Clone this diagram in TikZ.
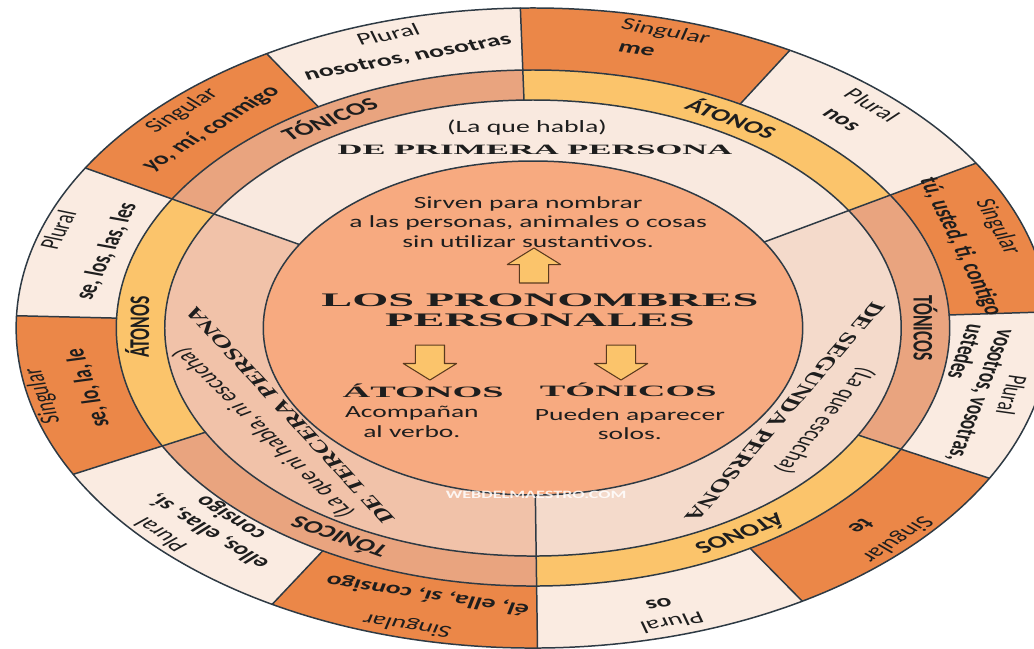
\documentclass[tikz,border=0pt]{standalone}
\usepackage{fontspec}
\setmainfont{Carlito}
\newfontfamily\titlefont[FakeStretch=1.5]{Liberation Serif}
\usetikzlibrary{shapes.arrows}
\definecolor{singcol}{HTML}{EB8748}
\definecolor{plurcol}{HTML}{FAEBE1}
\definecolor{toncol}{HTML}{E9A47F}
\definecolor{atocol}{HTML}{FBC46B}
\definecolor{primcol}{HTML}{F9E9DF}
\definecolor{segcol}{HTML}{F4DACB}
\definecolor{tercol}{HTML}{F1C2A9}
\definecolor{corecol}{HTML}{F7AA80}
\definecolor{linecol}{HTML}{2E3A44}
\definecolor{txtcol}{HTML}{1E1E1E}
\definecolor{arrline}{HTML}{5A3A1E}
\tikzset{
  ringline/.style={draw=linecol,line width=.85pt},
  numlab/.style={text=txtcol,font=\fontsize{9.8}{11}\selectfont},
  pronlab/.style={text=txtcol,font=\bfseries\fontsize{9.8}{11}\selectfont},
  formlab/.style={text=txtcol,font=\bfseries\fontsize{10}{12}\selectfont},
  perstit/.style={text=txtcol,font=\titlefont\bfseries\fontsize{8.1}{10}\selectfont},
  perssub/.style={text=txtcol,font=\fontsize{9.8}{11}\selectfont},
  bodytxt/.style={text=txtcol,align=center,font=\fontsize{9.7}{11}\selectfont},
  maintit/.style={text=txtcol,align=center,font=\titlefont\bfseries\fontsize{10.9}{11.3}\selectfont},
  subtit/.style={text=txtcol,font=\titlefont\bfseries\fontsize{9}{11}\selectfont},
  blockarrow/.style={single arrow,draw=arrline,fill=atocol,line width=.6pt,
    minimum height=.7cm,inner xsep=0pt,inner ysep=.17cm,single arrow head extend=.15cm}
}
\begin{document}
\begin{tikzpicture}[line join=round,line cap=round,x=.02cm,y=.02cm,xscale=1.615,transform shape]
  \useasboundingbox (-330,-320) rectangle (310.2,328);
  % persona ring
  \foreach \a/\b/\c in {31/150/primcol,150/270.5/tercol,270.5/391/segcol}{
    \fill[\c] (\a:167) arc[start angle=\a,end angle=\b,radius=167] -- (\b:228) arc[start angle=\b,end angle=\a,radius=228] -- cycle;
  }
  % tonicos / atonos ring
  \foreach \a/\b/\c in {91.4/150/toncol,150/207.2/atocol,207.2/270.5/toncol,270.5/332/atocol,332/391/toncol,391/451.4/atocol}{
    \fill[\c] (\a:228) arc[start angle=\a,end angle=\b,radius=228] -- (\b:258) arc[start angle=\b,end angle=\a,radius=258] -- cycle;
  }
  % singular / plural ring
  \foreach \a/\b/\c in {91.4/121/plurcol,121/150/singcol,150/177.8/plurcol,177.8/207.2/singcol,207.2/239.7/plurcol,239.7/270.5/singcol,
    270.5/301.4/plurcol,301.4/332/singcol,332/362.9/plurcol,362.9/391/singcol,391/420.2/plurcol,420.2/451.4/singcol}{
    \fill[\c] (\a:258) arc[start angle=\a,end angle=\b,radius=258] -- (\b:320) arc[start angle=\b,end angle=\a,radius=320] -- cycle;
  }
  \fill[corecol] (0,0) circle[radius=167];
  \foreach \r in {167,228,258,320}{
    \draw[ringline] (0,0) circle[radius=\r];
  }
  \foreach \a in {31,150,270.5}{
    \draw[ringline] (\a:167) -- (\a:320);
  }
  \foreach \a in {91.4,207.2,332}{
    \draw[ringline] (\a:228) -- (\a:320);
  }
  \foreach \a in {121,177.8,239.7,301.4,362.9,420.2}{
    \draw[ringline] (\a:258) -- (\a:320);
  }
  % centre
  \node[bodytxt] (desc) at (-3,106) {Sirven para nombrar\\a las personas, animales o cosas\\sin utilizar sustantivos.};
  \node[blockarrow,rotate=90] (upArr) at (0.6,58) {};
  \node[maintit] (title) at (4.3,18) {LOS PRONOMBRES\\PERSONALES};
  \node[blockarrow,rotate=-90] (atoArr) at (-63.8,-30) {};
  \node[blockarrow,rotate=-90] (tonArr) at (54.5,-30) {};
  \node[subtit] (atoTit) at (-68,-63) {ÁTONOS};
  \node[bodytxt] (atoTxt) at (-75,-94) {Acompañan\\al verbo.};
  \node[subtit] (tonTit) at (59,-62) {TÓNICOS};
  \node[bodytxt] (tonTxt) at (60,-96) {Pueden aparecer\\solos.};
  \node[text=white,opacity=.85,font=\bfseries\fontsize{6.4}{7}\selectfont] (mark) at (2,-167) {WEBDELMAESTRO.COM};
  % personas
  \node[perssub] (priSub) at (-3.7,200) {(La que habla)};
  \node[perstit] (priTit) at (1.2,178) {DE PRIMERA PERSONA};
  \node[perstit,rotate=-118.3] (segTit) at (-28.3:177) {DE SEGUNDA PERSONA};
  \node[perssub,rotate=-117.2] (segSub) at (-27.2:203) {(La que escucha)};
  \node[perstit,rotate=120] (terTit) at (210:174) {DE TERCERA PERSONA};
  \node[perssub,rotate=122.1] (terSub) at (212.1:197) {(La que ni habla, ni escucha)};
  % tonicos / atonos
  \node[formlab,rotate=31.1] (priTon) at (121.1:245) {TÓNICOS};
  \node[formlab,rotate=-30.4] (priAto) at (59.6:243.5) {ÁTONOS};
  \node[formlab,rotate=-90] (segTon) at (0:243) {TÓNICOS};
  \node[formlab,rotate=-148.1] (segAto) at (-58.1:244) {ÁTONOS};
  \node[formlab,rotate=150.1] (terTon) at (240.1:242) {TÓNICOS};
  \node[formlab,rotate=89.8] (terAto) at (179.8:245) {ÁTONOS};
  % singular / plural
  \node[numlab,rotate=17] (nosL) at (107:307) {Plural};
  \node[pronlab,rotate=16] (nosV) at (106:281) {nosotros, nosotras};
  \node[numlab,rotate=45] (yoL) at (135:307) {Singular};
  \node[pronlab,rotate=45] (yoV) at (135:282) {yo, mí, conmigo};
  \node[numlab,rotate=-15.5] (meL) at (74.5:307) {Singular};
  \node[pronlab,rotate=-13] (meV) at (77:285) {me};
  \node[numlab,rotate=-43.3] (nosAtL) at (46.7:306) {Plural};
  \node[pronlab,rotate=-42.5] (nosAtV) at (47.5:282) {nos};
  \node[numlab,rotate=-70.6] (tuL) at (19.4:305) {Singular};
  \node[pronlab,rotate=-72.9] (tuV) at (17.1:277) {tú, usted, ti, contigo};
  \node[numlab,rotate=-102.75] (vosL) at (-12.75:304) {Plural};
  \node[pronlab,rotate=-103.6,align=left] (vosV) at (-13.6:276) {vosotros, vosotras,\\ustedes};
  \node[numlab,rotate=-133.2] (teL) at (-43.2:309) {Singular};
  \node[pronlab,rotate=-134.3] (teV) at (-44.3:284) {te};
  \node[numlab,rotate=-163.7] (osL) at (-73.7:307) {Plural};
  \node[pronlab,rotate=-164.2] (osV) at (-74.2:286) {os};
  \node[numlab,rotate=165.3] (elL) at (255.3:307) {Singular};
  \node[pronlab,rotate=166.3] (elV) at (256.3:275) {él, ella, sí, consigo};
  \node[numlab,rotate=131.9] (ellosL) at (221.9:310) {Plural};
  \node[pronlab,rotate=135.4,align=center] (ellosV) at (225.4:276) {ellos, ellas, sí,\\consigo};
  \node[numlab,rotate=102.6] (seL) at (192.6:311) {Singular};
  \node[pronlab,rotate=102.3] (seV) at (192.3:282) {se, lo, la, le};
  \node[numlab,rotate=71.6] (selosL) at (161.6:310) {Plural};
  \node[pronlab,rotate=73.8] (selosV) at (163.8:275) {se, los, las, les};
\end{tikzpicture}
\end{document}
